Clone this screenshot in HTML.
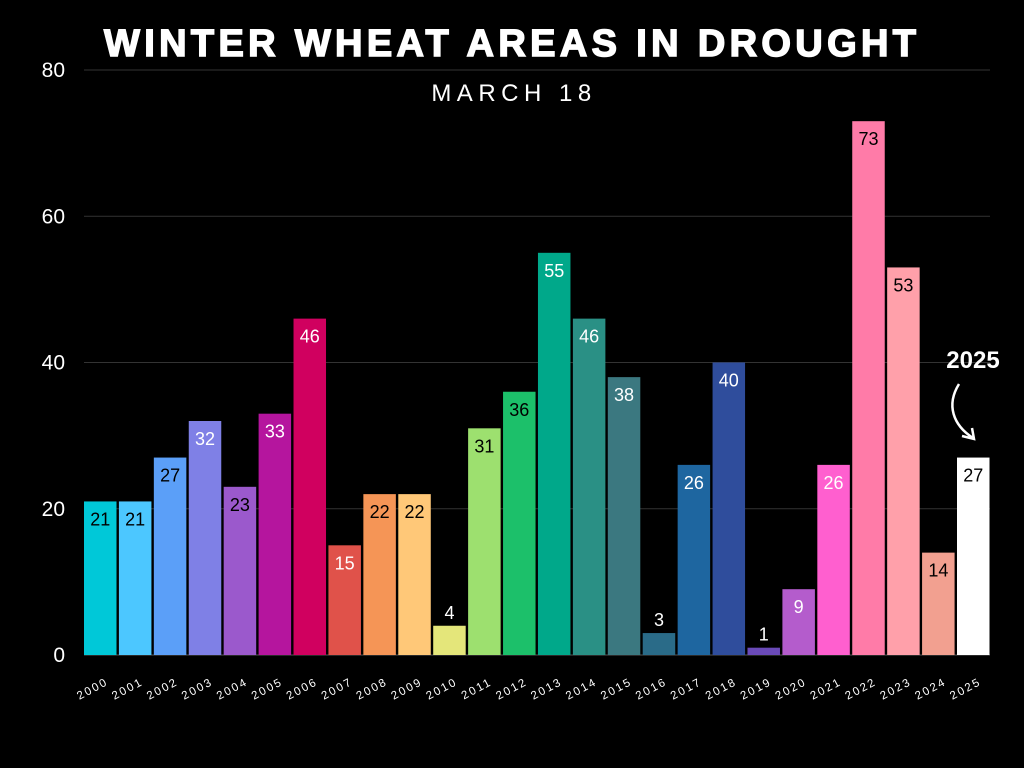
<!DOCTYPE html>
<html><head><meta charset="utf-8"><style>
body{margin:0;background:#000;width:1024px;height:768px;overflow:hidden}
svg{display:block;font-family:"Liberation Sans",sans-serif}
</style></head><body>
<svg id="chart" width="1024" height="768">
<rect width="1024" height="768" fill="#000"/>
<text x="511" y="56" text-anchor="middle" fill="#fff" font-size="38" font-weight="900" letter-spacing="2" stroke="#fff" stroke-width="1.5" textLength="814">WINTER WHEAT AREAS IN DROUGHT</text>
<text x="514" y="101" text-anchor="middle" fill="#fff" font-size="24" letter-spacing="5.5">MARCH 18</text>
<g id="grid"></g><g id="bars"></g><g id="xlabels"></g>
<text x="973" y="368" text-anchor="middle" fill="#fff" font-size="24" font-weight="bold">2025</text>
<path d="M959,384 C946,405 953,425 973,438" fill="none" stroke="#fff" stroke-width="2.5"/>
<path d="M962,436 L974,439 L972,428" fill="none" stroke="#fff" stroke-width="2.5"/>
</svg>
<script>
const years=["2000","2001","2002","2003","2004","2005","2006","2007","2008","2009","2010","2011","2012","2013","2014","2015","2016","2017","2018","2019","2020","2021","2022","2023","2024","2025"];
const values=[21,21,27,32,23,33,46,15,22,22,4,31,36,55,46,38,3,26,40,1,9,26,73,53,14,27];
const yTicks=[0,20,40,60,80];
const colors=["#00c8d8","#4cc7ff","#5b9ff8","#7f80e6","#9b59cc","#b5159e","#d0005f","#e0524a","#f59556","#ffc878","#e4e67a","#9de06f","#1cc06a","#00a88a","#2a9085","#3b7880","#2a6b88","#1e66a0","#2f4d9c","#6a4ab8","#b45ccc","#ff5fcf","#ff7ba8","#ffa0aa","#f2a090","#ffffff"];
const textColors=["#000","#000","#000","#fff","#000","#fff","#fff","#fff","#000","#000","#fff","#000","#000","#fff","#fff","#fff","#fff","#fff","#fff","#fff","#fff","#fff","#000","#000","#000","#000"];
const NS="http://www.w3.org/2000/svg";
const y=v=>655-v*(585/80);
const x=i=>84+i*34.92;
const bw=32.5;
function mk(t,a,p){const e=document.createElementNS(NS,t);for(const k in a)e.setAttribute(k,a[k]);p.appendChild(e);return e;}
const grid=document.getElementById('grid');
yTicks.forEach(t=>{
 const l=mk('line',{x1:84,x2:990,y1:y(t),y2:y(t),stroke:t===0?'#555':'#333','stroke-width':1},grid);
 
 
 const tx=mk('text',{x:65,y:y(t)+7,'text-anchor':'end',fill:'#fff','font-size':21},grid);
 tx.textContent=t;
 
 
});
const bars=document.getElementById('bars'),xl=document.getElementById('xlabels');
values.forEach((v,i)=>{
 const r=mk('rect',{x:x(i),y:y(v),width:bw,height:655-y(v),fill:colors[i]},bars);
 
 
 const inside=v>=5;
 const t=mk('text',{x:x(i)+bw/2,y:inside?y(v)+24:y(v)-7,'text-anchor':'middle',fill:inside?textColors[i]:'#fff','font-size':18},bars);
 t.textContent=v;
 
 
 const cx=x(i)+bw/2-6, cy=692;
 const lb=mk('text',{x:cx,y:cy,'text-anchor':'middle',fill:'#fff','font-size':11.5,'letter-spacing':2,transform:`rotate(-28 ${cx} ${cy})`},xl);
 lb.textContent=years[i];
 
 
});
</script>
</body></html>
